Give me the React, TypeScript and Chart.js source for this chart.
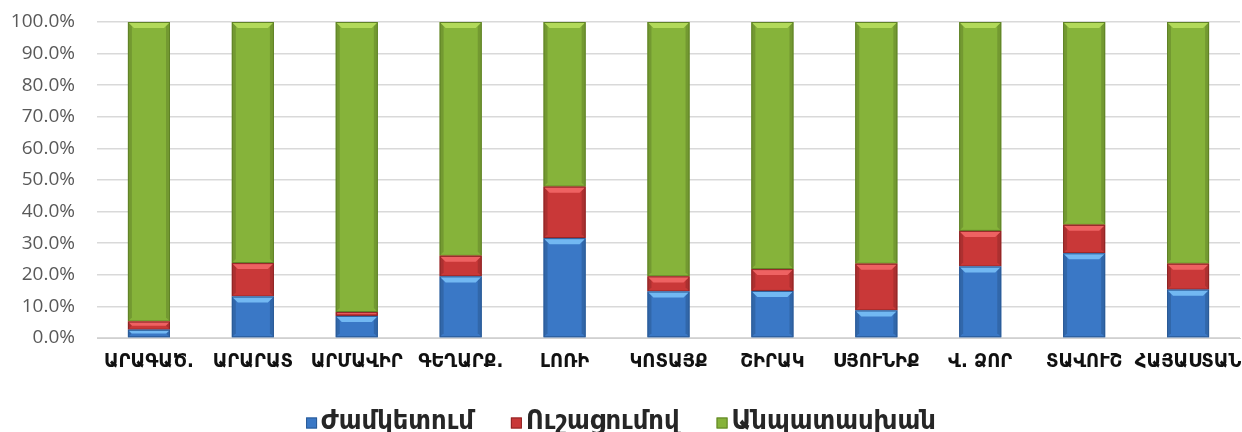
import React, { useEffect, useRef } from "react";
import { Chart, registerables } from "chart.js";

Chart.register(...registerables);

const categories = [
  "ԱՐԱԳԱԾ.",
  "ԱՐԱՐԱՏ",
  "ԱՐՄԱՎԻՐ",
  "ԳԵՂԱՐՔ.",
  "ԼՈՌԻ",
  "ԿՈՏԱՅՔ",
  "ՇԻՐԱԿ",
  "ՍՅՈՒՆԻՔ",
  "Վ. ՁՈՐ",
  "ՏԱՎՈՒՇ",
  "ՀԱՅԱՍՏԱՆ",
];

const onTime = [0.026, 0.131, 0.07, 0.195, 0.316, 0.147, 0.149, 0.087, 0.226, 0.268, 0.153];
const delayed = [0.026, 0.106, 0.012, 0.065, 0.163, 0.048, 0.069, 0.148, 0.113, 0.09, 0.082];
const noAnswer = [0.948, 0.763, 0.918, 0.74, 0.521, 0.805, 0.782, 0.765, 0.661, 0.642, 0.765];

const seriesNames = ["Ժամկետում", "Ուշացումով", "Անպատասխան"];
const yTicks = [0, 0.1, 0.2, 0.3, 0.4, 0.5, 0.6, 0.7, 0.8, 0.9, 1.0];

const fills = ["#3a78c6", "#c93838", "#86b33a"];
const lights = ["#72b8f2", "#ee6262", "#b2d95a"];
const edges = ["#2a5a96", "#8e2424", "#5f8226"];

const LEGEND_FONT = "bold 27px 'DejaVu Sans Condensed', 'DejaVu Sans', sans-serif";

const bevelPlugin = {
  id: "bevel",
  afterDatasetDraw(chart: any, args: any) {
    const i = args.index;
    const meta = chart.getDatasetMeta(i);
    const ctx = chart.ctx;
    ctx.save();
    meta.data.forEach((bar: any) => {
      const { x, y, base, width } = bar.getProps(["x", "y", "base", "width"], true);
      const h = Math.abs(base - y);
      const left = x - width / 2;
      const right = x + width / 2;
      const top = Math.min(y, base);
      const bottom = top + h;
      const bev = Math.min(6, h / 2);
      if (bev <= 0.5) return;
      // side shading
      const side = Math.min(4, bev);
      ctx.fillStyle = "rgba(0,0,0,0.14)";
      ctx.beginPath();
      ctx.moveTo(left, top);
      ctx.lineTo(left + side, top + side);
      ctx.lineTo(left + side, bottom - side);
      ctx.lineTo(left, bottom);
      ctx.closePath();
      ctx.fill();
      ctx.beginPath();
      ctx.moveTo(right, top);
      ctx.lineTo(right - side, top + side);
      ctx.lineTo(right - side, bottom - side);
      ctx.lineTo(right, bottom);
      ctx.closePath();
      ctx.fill();
      // top highlight
      ctx.fillStyle = lights[i];
      ctx.beginPath();
      ctx.moveTo(left, top);
      ctx.lineTo(right, top);
      ctx.lineTo(right - bev, top + bev);
      ctx.lineTo(left + bev, top + bev);
      ctx.closePath();
      ctx.fill();
      ctx.strokeStyle = edges[i];
      ctx.lineWidth = 1;
      ctx.strokeRect(left + 0.5, top + 0.5, width - 1, h - 1);
    });
    ctx.restore();
  },
};

const legendPlugin = {
  id: "customLegend",
  afterDraw(chart: any) {
    const ctx = chart.ctx;
    ctx.save();
    ctx.font = LEGEND_FONT;
    const box = 11;
    const gapBoxText = 4;
    const gapItems = 37;
    const widths = seriesNames.map((n) => ctx.measureText(n).width);
    const total =
      widths.reduce((a, w) => a + w + box + gapBoxText, 0) + gapItems * (seriesNames.length - 1);
    let x = chart.width / 2 - total / 2;
    const cy = 422;
    ctx.textBaseline = "middle";
    ctx.textAlign = "left";
    seriesNames.forEach((n, i) => {
      ctx.fillStyle = fills[i];
      ctx.fillRect(x, cy - box / 2 + 1, box, box);
      ctx.strokeStyle = edges[i];
      ctx.lineWidth = 1;
      ctx.strokeRect(x + 0.5, cy - box / 2 + 1.5, box - 1, box - 1);
      ctx.fillStyle = "#262626";
      ctx.fillText(n, x + box + gapBoxText, cy);
      x += box + gapBoxText + widths[i] + gapItems;
    });
    ctx.restore();
  },
};

export default function App() {
  const ref = useRef<HTMLCanvasElement | null>(null);

  useEffect(() => {
    document.body.style.margin = "0";
    const canvas = ref.current;
    if (!canvas) return;
    const datasets = [onTime, delayed, noAnswer].map((d, i) => ({
      label: seriesNames[i],
      data: d,
      backgroundColor: fills[i],
      borderWidth: 0,
      categoryPercentage: 1,
      barPercentage: 0.405,
    }));
    const chart = new Chart(canvas, {
      type: "bar",
      data: { labels: categories, datasets },
      plugins: [bevelPlugin, legendPlugin],
      options: {
        animation: false,
        responsive: false,
        maintainAspectRatio: false,
        layout: { padding: { top: 22, right: 2, left: 4, bottom: 59 } },
        plugins: {
          tooltip: { enabled: false },
          legend: { display: false },
        },
        scales: {
          x: {
            stacked: true,
            grid: { display: false, drawTicks: false },
            border: { display: true, color: "#d0d0d0", width: 1 },
            afterFit: (s: any) => {
              s.height = 35;
              s.paddingLeft = 0;
              s.paddingRight = 0;
            },
            ticks: {
              color: "#111",
              maxRotation: 0,
              autoSkip: false,
              padding: 12,
              font: { family: "'DejaVu Sans Condensed', 'DejaVu Sans'", size: 20, weight: "bold" },
            },
          },
          y: {
            stacked: true,
            min: 0,
            max: 1,
            afterBuildTicks: (axis: any) => {
              axis.ticks = yTicks.map((v) => ({ value: v }));
            },
            afterFit: (s: any) => {
              s.width = 93;
              s.paddingTop = 0;
              s.paddingBottom = 0;
            },
            grid: { color: "#d9d9d9", lineWidth: 1.5, drawTicks: false },
            border: { display: false },
            ticks: {
              color: "#595959",
              padding: 22,
              font: { family: "'Open Sans'", size: 19 },
              callback: (v: any) => (Number(v) * 100).toFixed(1) + "%",
            },
          },
        },
      },
    });
    return () => chart.destroy();
  }, []);

  return (
    <div style={{ width: 1242, height: 432 }}>
      <canvas ref={ref} width={1242} height={432} style={{ display: "block" }} />
    </div>
  );
}
